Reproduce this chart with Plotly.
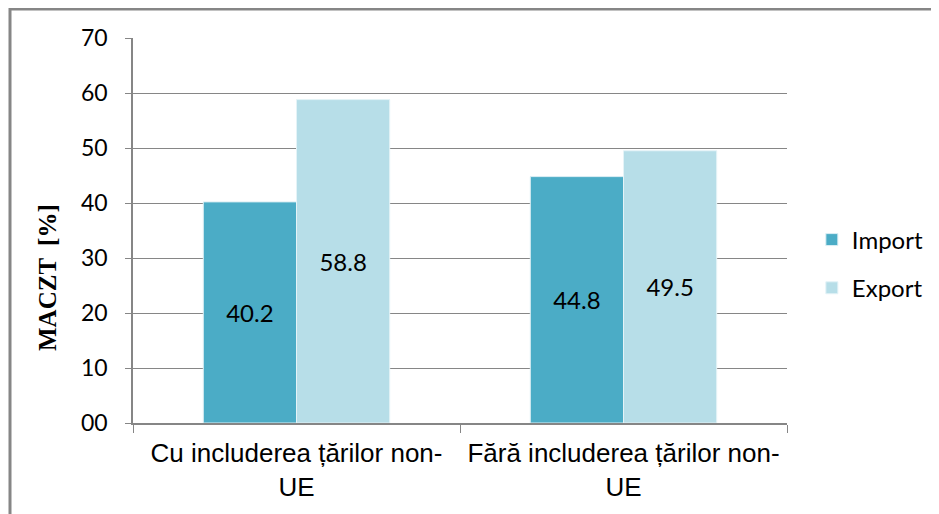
import plotly.graph_objects as go

categories = ["Cu includerea țărilor non-<br>UE", "Fără includerea țărilor non-<br>UE"]
import_vals = [40.2, 44.8]
export_vals = [58.8, 49.5]
y_tickvals = [0, 10, 20, 30, 40, 50, 60, 70]
y_ticktext = ["00", "10", "20", "30", "40", "50", "60", "70"]

calib = "Lato, 'Open Sans', sans-serif"

L, T, W, H = 125, 30, 654, 385

fig = go.Figure()
fig.add_trace(go.Bar(
    name="Import", x=categories, y=import_vals,
    marker=dict(color="#4BACC6", line=dict(color="#DCEFF4", width=1)),
    text=[f"{v:.1f}" for v in import_vals], textposition="inside",
    insidetextanchor="middle", textfont=dict(family=calib, size=24, color="#000000"),
    legendgroup="a",
))
fig.add_trace(go.Bar(
    name="Export", x=categories, y=export_vals,
    marker=dict(color="#B7DEE8", line=dict(color="#E4F3F7", width=1)),
    text=[f"{v:.1f}" for v in export_vals], textposition="inside",
    insidetextanchor="middle", textfont=dict(family=calib, size=24, color="#000000"),
    legendgroup="b",
))

fig.update_layout(
    width=939, height=514,
    margin=dict(l=L, r=939 - L - W, t=T, b=514 - T - H),
    paper_bgcolor="white", plot_bgcolor="white",
    barmode="group", bargap=0.43, bargroupgap=0,
    showlegend=True,
    legend=dict(x=1.038, y=0.413, xanchor="left", yanchor="middle",
                font=dict(family=calib, size=24, color="#000000"),
                traceorder="grouped", tracegroupgap=14,
                itemwidth=30, bgcolor="rgba(0,0,0,0)"),
    xaxis=dict(
        automargin=False,
        showline=True, linecolor="#868686", linewidth=1.5,
        ticks="outside", tickson="boundaries", ticklen=8, tickcolor="#868686",
        tickfont=dict(family="'Liberation Sans', Arial, sans-serif", size=26, color="#000000"),
        ticklabelstandoff=6,
        showgrid=False,
    ),
    yaxis=dict(
        automargin=False,
        range=[0, 70], tickvals=y_tickvals, ticktext=y_ticktext,
        showline=True, linecolor="#868686", linewidth=1.5,
        ticks="outside", ticklen=6, tickcolor="#868686",
        showgrid=True, gridcolor="#868686", gridwidth=1.2,
        tickfont=dict(family=calib, size=23, color="#000000"),
        ticklabelstandoff=13,
        zeroline=False,
    ),
    annotations=[dict(text="<b>MACZT  [%]</b>", textangle=-90, showarrow=False,
                      xref="paper", yref="paper",
                      x=(39 - L) / W, y=(T + H - 270) / H,
                      xanchor="center", yanchor="middle",
                      font=dict(family="'Liberation Serif', 'Times New Roman', serif", size=25, color="#000000"))],
    shapes=[dict(type="rect", xref="paper", yref="paper",
                 x0=(2 - L) / W, x1=(960 - L) / W,
                 y0=-0.5, y1=(T + H - 1) / H,
                 line=dict(color="#868686", width=3), fillcolor="rgba(0,0,0,0)", layer="below")],
)

fig.write_html("out.html")
